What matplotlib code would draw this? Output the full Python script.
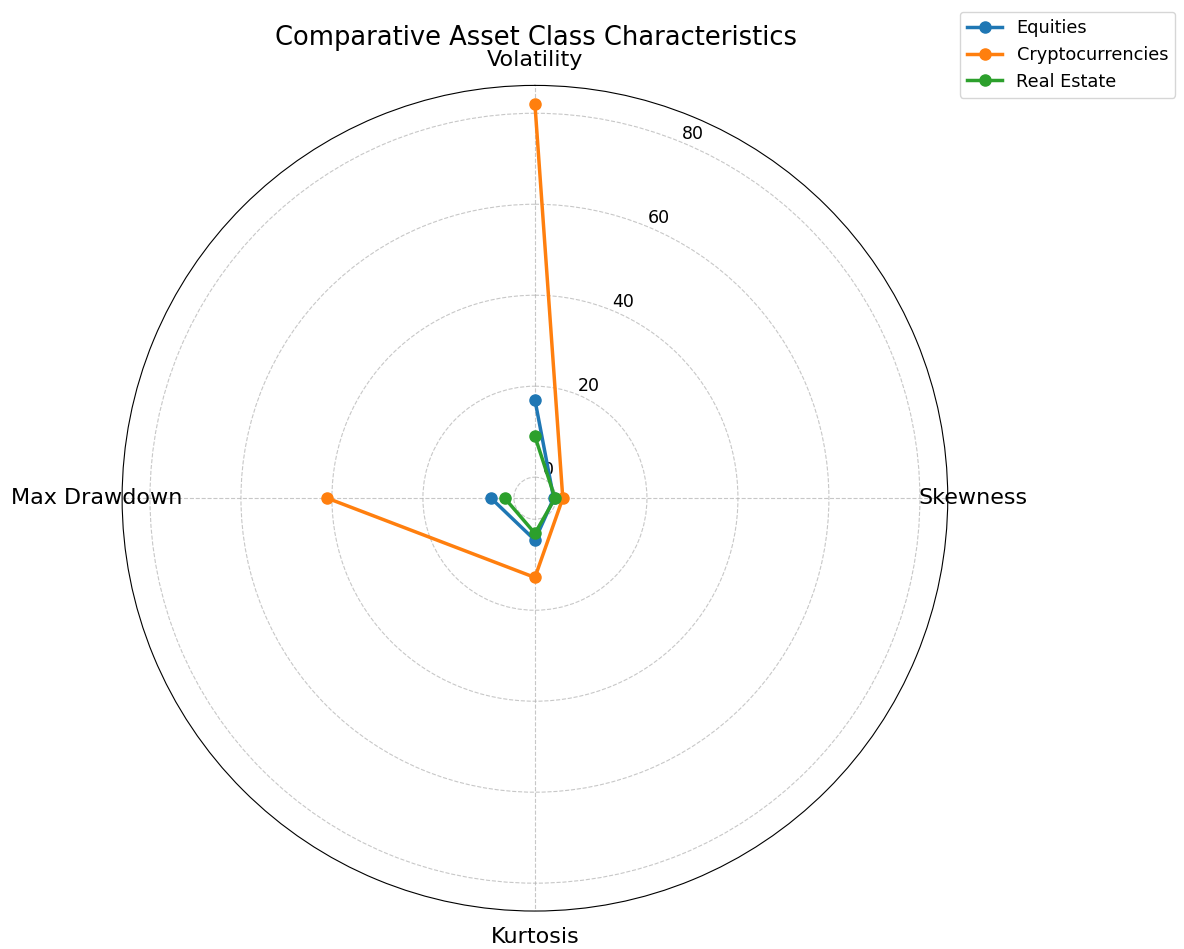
import numpy as np
import matplotlib
matplotlib.use("Agg")
import matplotlib.pyplot as plt

categories = ["Volatility", "Skewness", "Kurtosis", "Max Drawdown"]
series_names = ["Equities", "Cryptocurrencies", "Real Estate"]
equities = [17, -0.5, 4.6, 5]
crypto = [82, 1.5, 12.8, 41]
real_estate = [9, -0.2, 3.1, 2]
colors = ["#1f77b4", "#ff7f0e", "#2ca02c"]

angles = np.linspace(0, 2 * np.pi, len(categories), endpoint=False)

fig = plt.figure(figsize=(11.84, 9.49), dpi=100)
ax = fig.add_axes([0.103, 0.04, 0.6976, 0.870], projection="polar")
ax.set_theta_offset(np.pi / 2)
ax.set_theta_direction(-1)

for name, vals, c in zip(series_names, [equities, crypto, real_estate], colors):
    ax.plot(angles, vals, marker="o", markersize=8, linewidth=2.5, color=c, label=name)

ax.set_xticks(angles)
ax.set_xticklabels(categories, fontsize=16)
ax.tick_params(axis="x", pad=8)
ax.tick_params(axis="y", labelsize=12.5)
ax.grid(linestyle="--", alpha=0.7)

# title sits over the top category label, like the original
fig.text(0.4527, 0.960, "Comparative Asset Class Characteristics",
         fontsize=18.5, ha="center", va="center")

fig.legend(loc="upper right", bbox_to_anchor=(1.0, 0.997), fontsize=12.8)

fig.savefig("out.png", dpi=100)
